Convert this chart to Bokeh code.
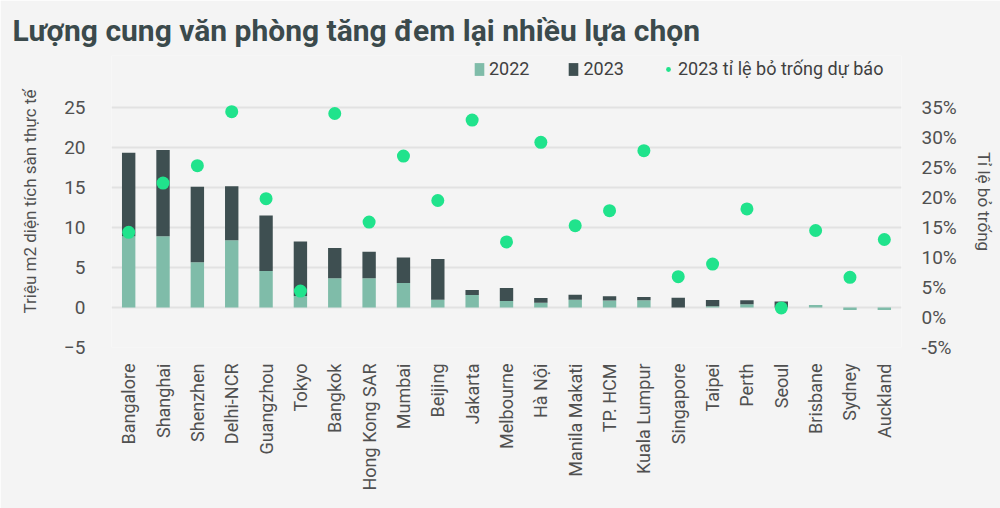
from bokeh.plotting import figure
from bokeh.models import (ColumnDataSource, Range1d, LinearAxis, FixedTicker,
                          PrintfTickFormatter, Legend, LegendItem, Label, Title)
from bokeh.embed import file_html
from bokeh.resources import INLINE
import math

# ---------------- data ----------------
cities = ["Bangalore", "Shanghai", "Shenzhen", "Delhi-NCR", "Guangzhou", "Tokyo",
          "Bangkok", "Hong Kong SAR", "Mumbai", "Beijing", "Jakarta", "Melbourne",
          "Hà Nội", "Manila Makati", "TP. HCM", "Kuala Lumpur", "Singapore", "Taipei",
          "Perth", "Seoul", "Brisbane", "Sydney", "Auckland"]
supply_2022 = [8.9, 8.9, 5.65, 8.4, 4.55, 1.45, 3.65, 3.65, 3.05, 0.97, 1.55, 0.8,
               0.59, 0.97, 0.88, 0.92, 0.0, 0.15, 0.42, 0.0, 0.3, -0.3, -0.3]
supply_2023 = [10.45, 10.8, 9.45, 6.75, 6.95, 6.8, 3.8, 3.33, 3.2, 5.08, 0.65, 1.63,
               0.59, 0.62, 0.54, 0.38, 1.22, 0.8, 0.5, 0.75, 0.0, 0.0, 0.0]
vacancy_2023 = [14.2, 22.4, 25.3, 34.3, 19.8, 4.4, 34.0, 15.9, 26.9, 19.5, 32.9, 12.6,
                29.2, 15.3, 17.8, 27.8, 6.8, 8.9, 18.1, 1.6, 14.5, 6.7, 13.0]
highlighted = ["Hà Nội", "TP. HCM"]
left_ticks = [-5, 0, 5, 10, 15, 20, 25]
right_ticks = [-5, 0, 5, 10, 15, 20, 25, 30, 35]

title_text = "Lượng cung văn phòng tăng đem lại nhiều lựa chọn"
left_label = "Triệu m2 diện tích sàn thực tế"
right_label = "Tỉ lệ bỏ trống"

# ---------------- styles / layout ----------------
C_LIGHT = "#7fbca9"
C_DARK = "#3e4f51"
C_DOT = "#20e38c"
C_BG = "#f4f4f4"
C_TEXT = "#505050"
C_RED = "#c0392b"
FONT = "Roboto"

FRAME_H = 292          # frame height in px (room for the legend on top)
PX_LEFT = 8.0          # px per left-axis unit
PX_RIGHT = 6.0         # px per right-axis percent point

top_2022 = supply_2022
top_2023 = [a + b for a, b in zip(supply_2022, supply_2023)]
src = ColumnDataSource(dict(city=cities, top22=top_2022, top23=top_2023,
                            vac=vacancy_2023))

y0 = left_ticks[0]
r0 = right_ticks[0]
p = figure(x_range=cities, y_range=Range1d(y0, y0 + FRAME_H / PX_LEFT),
           width=1000, height=508, title=None,
           output_backend="svg", toolbar_location=None,
           min_border_left=111, min_border_right=99, min_border_top=55,
           min_border_bottom=161, background_fill_color=C_BG,
           border_fill_color=C_BG, outline_line_color=None)
p.extra_y_ranges = {"pct": Range1d(r0, r0 + FRAME_H / PX_RIGHT)}

r22 = p.vbar(x="city", bottom=0, top="top22", width=0.39, source=src,
             fill_color=C_LIGHT, line_color=None)
r23 = p.vbar(x="city", bottom="top22", top="top23", width=0.39, source=src,
             fill_color=C_DARK, line_color=None)
rdot = p.scatter(x="city", y="vac", size=13, source=src, y_range_name="pct",
                 fill_color=C_DOT, line_color=None)

# grid
p.xgrid.grid_line_color = None
p.ygrid.grid_line_color = "#e2e2e2"
p.ygrid.grid_line_width = 2
p.ygrid.ticker = FixedTicker(ticks=left_ticks)

# left axis
ya = p.yaxis[0]
ya.ticker = FixedTicker(ticks=left_ticks)
ya.axis_line_color = None
ya.major_tick_line_color = None
ya.minor_tick_line_color = None
ya.major_tick_out = 0
ya.major_tick_in = 0
ya.major_label_standoff = 26
ya.major_label_text_font = FONT
ya.major_label_text_font_size = "19px"
ya.major_label_text_color = C_TEXT
ya.axis_label = left_label
ya.axis_label_text_font = FONT
ya.axis_label_text_font_size = "17px"
ya.axis_label_text_font_style = "normal"
ya.axis_label_text_color = C_TEXT
ya.axis_label_standoff = 21

# right axis
ra = LinearAxis(y_range_name="pct", ticker=FixedTicker(ticks=right_ticks),
                formatter=PrintfTickFormatter(format="%d%%"))
ra.axis_line_color = None
ra.major_tick_line_color = None
ra.minor_tick_line_color = None
ra.major_tick_out = 0
ra.major_tick_in = 0
ra.major_label_standoff = 20
ra.major_label_text_font = FONT
ra.major_label_text_font_size = "19px"
ra.major_label_text_color = C_TEXT
ra.axis_label = right_label
ra.axis_label_text_font = FONT
ra.axis_label_text_font_size = "17px"
ra.axis_label_text_font_style = "normal"
ra.axis_label_text_color = C_TEXT
ra.axis_label_standoff = 14
p.add_layout(ra, "right")

# bottom axis
xa = p.xaxis[0]
xa.axis_line_color = None
xa.major_tick_line_color = None
xa.minor_tick_line_color = None
xa.major_tick_out = 0
xa.major_tick_in = 0
xa.major_label_orientation = math.pi / 2
xa.major_label_standoff = 16
xa.major_label_text_font = FONT
xa.major_label_text_font_size = "18px"
xa.major_label_text_color = C_TEXT
xa.major_label_overrides = {c: "" for c in highlighted}

for c in highlighted:
    p.add_layout(Label(x=cities.index(c) + 0.5, y=y0, y_offset=-16, text=c,
                       angle=math.pi / 2, text_align="right",
                       text_baseline="middle", text_font=FONT,
                       text_font_size="18px", text_color=C_RED))

# legend inside the (extended) frame, above the data
legend = Legend(items=[LegendItem(label="2022", renderers=[r22]),
                       LegendItem(label="2023", renderers=[r23]),
                       LegendItem(label="2023 tỉ lệ bỏ trống dự báo", renderers=[rdot])],
                orientation="horizontal", location=(362, 268),
                background_fill_alpha=0, border_line_color=None,
                padding=0, margin=0, spacing=38, glyph_width=12, glyph_height=16,
                label_standoff=4, label_text_font=FONT, label_height=20,
                label_text_font_size="18px", label_text_color="#404040")
p.add_layout(legend, "center")

# title
title = Title(text=title_text, text_font=FONT, text_font_size="30px",
              text_font_style="bold", text_color="#3b4a4c", align="left",
              offset=-99, standoff=16)
p.add_layout(title, "above")

open("out.html", "w").write(file_html(p, INLINE))
